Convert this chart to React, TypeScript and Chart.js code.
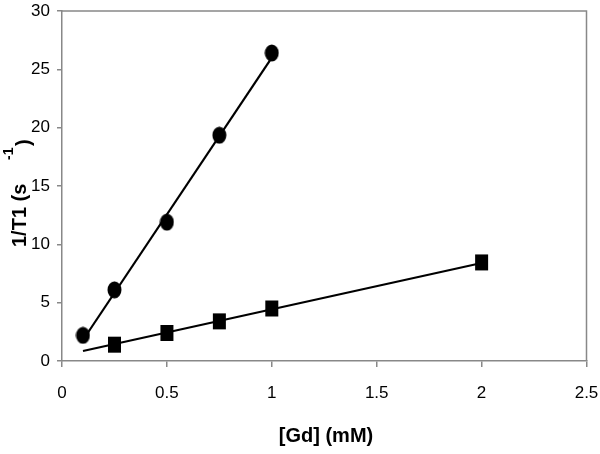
import React, { useEffect, useRef } from "react";
import { Chart, registerables } from "chart.js";

Chart.register(...registerables);

// Data
const circleX = [0.1, 0.25, 0.5, 0.75, 1];
const circleY = [2.2, 6.1, 11.9, 19.35, 26.4];
const squareX = [0.25, 0.5, 0.75, 1, 2];
const squareY = [1.4, 2.4, 3.4, 4.5, 8.45];
// Fitted lines (end points)
const circleFitX = [0.1, 1];
const circleFitY = [1.8, 26.0];
const squareFitX = [0.1, 2];
const squareFitY = [0.86, 8.4];

const xTicks = [0, 0.5, 1, 1.5, 2, 2.5];
const yTicks = [0, 5, 10, 15, 20, 25, 30];
const xTitle = "[Gd] (mM)";
const yTitleMain = "1/T1 (s";
const yTitleSup = "-1";
const yTitleClose = ")";

const AXIS_GRAY = "#888888";
const TICK_FONT = "'Liberation Sans Narrow', 'Arial Narrow', 'Liberation Sans', Arial, sans-serif";
const TITLE_FONT = "'Liberation Sans', Arial, sans-serif";

function makeMarker(kind: "ellipse" | "rect"): HTMLCanvasElement {
  const c = document.createElement("canvas");
  c.width = 15;
  c.height = 18;
  const ctx = c.getContext("2d")!;
  ctx.fillStyle = "#000";
  if (kind === "ellipse") {
    ctx.beginPath();
    ctx.ellipse(7.5, 9, 7, 8.6, 0, 0, Math.PI * 2);
    ctx.fill();
  } else {
    ctx.fillRect(1, 1, 13, 16);
  }
  return c;
}

const zip = (xs: number[], ys: number[]) => xs.map((x, i) => ({ x, y: ys[i] }));

const zeroPad = (scale: any) => {
  scale.paddingTop = 0;
  scale.paddingBottom = 0;
  scale.paddingLeft = 0;
  scale.paddingRight = 0;
};

const framePlugin = {
  id: "framePlugin",
  afterDraw(chart: any) {
    const { ctx, chartArea } = chart;
    ctx.save();
    ctx.strokeStyle = AXIS_GRAY;
    ctx.lineWidth = 1.5;
    ctx.beginPath();
    ctx.moveTo(chartArea.left, chartArea.top);
    ctx.lineTo(chartArea.right, chartArea.top);
    ctx.lineTo(chartArea.right, chartArea.bottom);
    ctx.stroke();
    ctx.restore();

    // Axis titles
    ctx.save();
    ctx.fillStyle = "#000";
    ctx.font = `bold 20px ${TITLE_FONT}`;
    ctx.textAlign = "center";
    ctx.textBaseline = "alphabetic";
    ctx.fillText(xTitle, 326, 442);
    ctx.restore();

    ctx.save();
    ctx.fillStyle = "#000";
    ctx.translate(0, 247);
    ctx.rotate(-Math.PI / 2);
    ctx.textAlign = "left";
    ctx.textBaseline = "alphabetic";
    ctx.font = `bold 20px ${TITLE_FONT}`;
    ctx.fillText(yTitleMain, 0, 25.5);
    ctx.font = `bold 14px ${TITLE_FONT}`;
    ctx.fillText(yTitleSup, 87, 13);
    ctx.font = `bold 20px ${TITLE_FONT}`;
    ctx.fillText(yTitleClose, 101, 30);
    ctx.restore();
  },
};

export default function App() {
  const ref = useRef<HTMLCanvasElement | null>(null);

  useEffect(() => {
    if (!ref.current) return;
    const ellipse = makeMarker("ellipse");
    const rect = makeMarker("rect");
    const chart = new Chart(ref.current, {
      type: "scatter",
      data: {
        datasets: [
          {
            data: zip(circleFitX, circleFitY),
            showLine: true,
            borderColor: "#000",
            borderWidth: 2.2,
            pointRadius: 0,
          },
          {
            data: zip(squareFitX, squareFitY),
            showLine: true,
            borderColor: "#000",
            borderWidth: 2.2,
            pointRadius: 0,
          },
          {
            data: zip(circleX, circleY),
            showLine: false,
            pointStyle: ellipse as any,
            backgroundColor: "#000",
          },
          {
            data: zip(squareX, squareY),
            showLine: false,
            pointStyle: rect as any,
            backgroundColor: "#000",
          },
        ],
      },
      options: {
        responsive: false,
        animation: false,
        layout: { padding: { left: 0, right: 13.5, top: 11, bottom: 0 } },
        plugins: { legend: { display: false }, tooltip: { enabled: false } },
        scales: {
          x: {
            type: "linear",
            min: 0,
            max: 2.5,
            afterFit(scale: any) {
              scale.height = 93;
              zeroPad(scale);
            },
            afterBuildTicks(scale: any) {
              scale.ticks = xTicks.map((v) => ({ value: v }));
            },
            ticks: {
              color: "#000",
              font: { family: TICK_FONT, size: 17 },
              padding: 16,
              maxRotation: 0,
              callback: (v: any) => String(v),
            },
            grid: {
              display: true,
              drawOnChartArea: false,
              drawTicks: true,
              tickLength: 6,
              color: AXIS_GRAY,
              lineWidth: 1.5,
            },
            border: { display: true, color: AXIS_GRAY, width: 1.5 },
          },
          y: {
            type: "linear",
            min: 0,
            max: 30,
            afterFit(scale: any) {
              scale.width = 62;
              zeroPad(scale);
            },
            afterBuildTicks(scale: any) {
              scale.ticks = yTicks.map((v) => ({ value: v }));
            },
            ticks: {
              color: "#000",
              font: { family: TICK_FONT, size: 17 },
              padding: 7,
              callback: (v: any) => String(v),
            },
            grid: {
              display: true,
              drawOnChartArea: false,
              drawTicks: true,
              tickLength: 5,
              color: AXIS_GRAY,
              lineWidth: 1.5,
            },
            border: { display: true, color: AXIS_GRAY, width: 1.5 },
          },
        },
      },
      plugins: [framePlugin],
    });
    return () => chart.destroy();
  }, []);

  return (
    <div style={{ position: "absolute", left: 0, top: 0, width: 600, height: 454, background: "#fff" }}>
      <canvas ref={ref} width={600} height={454} style={{ display: "block" }} />
    </div>
  );
}
